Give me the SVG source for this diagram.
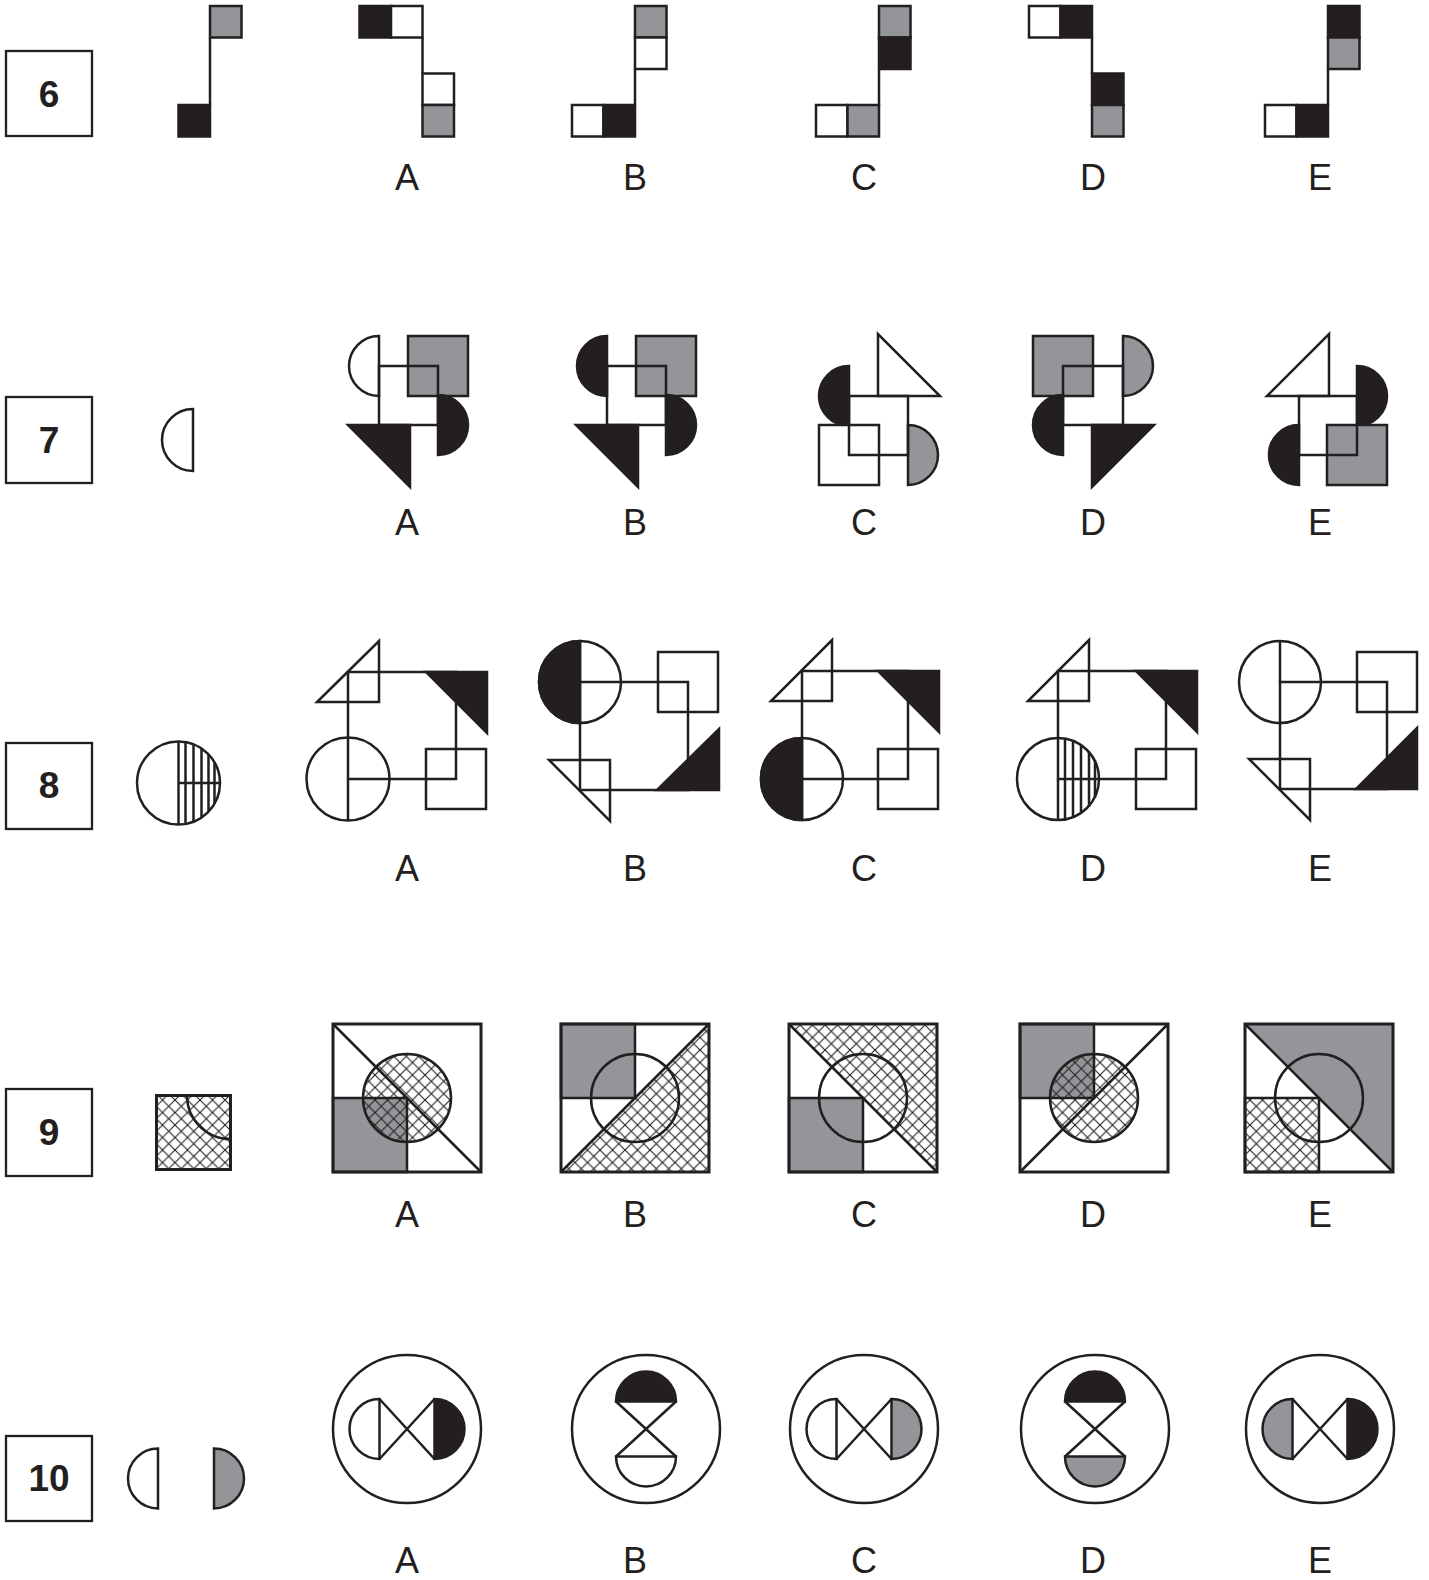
<svg xmlns="http://www.w3.org/2000/svg" width="1429" height="1580" viewBox="0 0 1429 1580">
<style>
.s{stroke:#231f20;stroke-width:2.5;fill:none;stroke-linejoin:miter}
.k{fill:#231f20;stroke:#231f20;stroke-width:2.5}
.g{fill:#939598;stroke:#231f20;stroke-width:2.5}
.w{fill:#fff;stroke:#231f20;stroke-width:2.5}
.x{fill:url(#xh);stroke:none}
.gf{fill:#939598;stroke:none}
.o{fill:none;stroke:#231f20;stroke-width:3}
.box{fill:#fff;stroke:#231f20;stroke-width:2.3}
.num{font-family:"Liberation Sans",Arial,sans-serif;font-weight:bold;font-size:37px;fill:#231f20;text-anchor:middle}
.lbl{font-family:"Liberation Sans",Arial,sans-serif;font-size:36px;fill:#231f20;text-anchor:middle}
</style>
<defs>
<pattern id="xh" patternUnits="userSpaceOnUse" width="12.5" height="12.5">
<path d="M0,0 L12.5,12.5 M12.5,0 L0,12.5" stroke="#231f20" stroke-width="1.1" fill="none"/>
</pattern>
</defs>
<rect width="1429" height="1580" fill="#fff"/>

<!-- Row 6 -->
<g id="q6">
<rect class="box" x="6" y="51" width="86" height="85"/><text class="num" x="49" y="107">6</text>
</g>
<g id="q6-given">
<rect class="g" x="210" y="6" width="31.5" height="31.5"/>
<rect class="k" x="178.5" y="105" width="31.5" height="31.5"/>
<line class="s" x1="210" y1="37.5" x2="210" y2="105"/>
</g>
<g id="q6-A">
<rect class="k" x="359.5" y="6" width="31.5" height="31.5"/>
<rect class="w" x="391" y="6" width="31.5" height="31.5"/>
<line class="s" x1="422.5" y1="37.5" x2="422.5" y2="73.5"/>
<rect class="w" x="422.5" y="73.5" width="31.5" height="31.5"/>
<rect class="g" x="422.5" y="105" width="31.5" height="31.5"/>
<text class="lbl" x="407" y="190">A</text>
</g>
<g id="q6-B">
<rect class="g" x="635" y="6" width="31.5" height="31.5"/>
<rect class="w" x="635" y="37.5" width="31.5" height="31.5"/>
<line class="s" x1="635" y1="69" x2="635" y2="105"/>
<rect class="w" x="572" y="105" width="31.5" height="31.5"/>
<rect class="k" x="603.5" y="105" width="31.5" height="31.5"/>
<text class="lbl" x="635" y="190">B</text>
</g>
<g id="q6-C">
<rect class="g" x="879" y="6" width="31.5" height="31.5"/>
<rect class="k" x="879" y="37.5" width="31.5" height="31.5"/>
<line class="s" x1="879" y1="69" x2="879" y2="105"/>
<rect class="w" x="816" y="105" width="31.5" height="31.5"/>
<rect class="g" x="847.5" y="105" width="31.5" height="31.5"/>
<text class="lbl" x="864" y="190">C</text>
</g>
<g id="q6-D">
<rect class="w" x="1029" y="6" width="31.5" height="31.5"/>
<rect class="k" x="1060.5" y="6" width="31.5" height="31.5"/>
<line class="s" x1="1092" y1="37.5" x2="1092" y2="73.5"/>
<rect class="k" x="1092" y="73.5" width="31.5" height="31.5"/>
<rect class="g" x="1092" y="105" width="31.5" height="31.5"/>
<text class="lbl" x="1093" y="190">D</text>
</g>
<g id="q6-E">
<rect class="k" x="1328" y="6" width="31.5" height="31.5"/>
<rect class="g" x="1328" y="37.5" width="31.5" height="31.5"/>
<line class="s" x1="1328" y1="69" x2="1328" y2="105"/>
<rect class="w" x="1265" y="105" width="31.5" height="31.5"/>
<rect class="k" x="1296.5" y="105" width="31.5" height="31.5"/>
<text class="lbl" x="1320" y="190">E</text>
</g>

<!-- Row 7 -->
<g id="q7">
<rect class="box" x="6" y="397" width="86" height="86"/><text class="num" x="49" y="453">7</text>
</g>
<g id="q7-given">
<path class="w" d="M193,409 A31,31 0 0 0 193,471 Z"/>
</g>
<g id="q7-A">
<path class="w" d="M379,336 A30,30 0 0 0 379,396 Z"/>
<rect class="g" x="408" y="336" width="60" height="60"/>
<path class="k" d="M438,395 A30,30 0 0 1 438,455 Z"/>
<polygon class="k" points="348,425 410,425 410,487"/>
<rect class="s" x="379" y="366" width="59" height="59"/>
<text class="lbl" x="407" y="535">A</text>
</g>
<g id="q7-B">
<path class="k" d="M607,336 A30,30 0 0 0 607,396 Z"/>
<rect class="g" x="636" y="336" width="60" height="60"/>
<path class="k" d="M666,395 A30,30 0 0 1 666,455 Z"/>
<polygon class="k" points="576,425 638,425 638,487"/>
<rect class="s" x="607" y="366" width="59" height="59"/>
<text class="lbl" x="635" y="535">B</text>
</g>
<g id="q7-C">
<polygon class="w" points="878,334 878,396 940,396"/>
<path class="k" d="M849,366 A30,30 0 0 0 849,426 Z"/>
<rect class="w" x="819" y="425" width="60" height="60"/>
<path class="g" d="M908,425 A30,30 0 0 1 908,485 Z"/>
<rect class="s" x="849" y="396" width="59" height="59"/>
<text class="lbl" x="864" y="535">C</text>
</g>
<g id="q7-D">
<rect class="g" x="1033" y="336" width="60" height="60"/>
<path class="g" d="M1123,336 A30,30 0 0 1 1123,396 Z"/>
<path class="k" d="M1063,395 A30,30 0 0 0 1063,455 Z"/>
<polygon class="k" points="1092,425 1154,425 1092,487"/>
<rect class="s" x="1063" y="366" width="60" height="59"/>
<text class="lbl" x="1093" y="535">D</text>
</g>
<g id="q7-E">
<polygon class="w" points="1267,396 1329,396 1329,334"/>
<path class="k" d="M1357,366 A30,30 0 0 1 1357,426 Z"/>
<path class="k" d="M1299,425 A30,30 0 0 0 1299,485 Z"/>
<rect class="g" x="1327" y="425" width="60" height="60"/>
<rect class="s" x="1299" y="396" width="58" height="59"/>
<text class="lbl" x="1320" y="535">E</text>
</g>

<!-- Row 8 -->
<g id="q8">
<rect class="box" x="6" y="743" width="86" height="86"/><text class="num" x="49" y="798">8</text>
</g>
<g id="q8-given">
<circle class="w" cx="178.5" cy="783" r="41.5"/>
<path class="s" d="M178.5,741.5 V824.5 M178.5,783 H220 M185.5,742.1 V823.9 M193.5,744.3 V821.7 M201.5,748.5 V817.5 M208.5,754.3 V811.7 M214.5,762.4 V803.6"/>
</g>
<g id="q8-A">
<polygon class="w" points="317,702 379,702 379,641"/>
<polygon class="k" points="426,672 487,672 487,733"/>
<rect class="w" x="426" y="749" width="60" height="60"/>
<circle class="w" cx="348" cy="779" r="41.5"/>
<rect class="s" x="348" y="672" width="108" height="107"/>
<line class="s" x1="348" y1="779" x2="348" y2="820.5"/>
<text class="lbl" x="407" y="881">A</text>
</g>
<g id="q8-B">
<rect class="w" x="658" y="652" width="60" height="60"/>
<polygon class="k" points="657,790 719,790 719,729"/>
<polygon class="w" points="549,760 610,760 610,821"/>
<circle class="w" cx="580" cy="682" r="41"/>
<path class="k" d="M580,641 A41,41 0 0 0 580,723 Z"/>
<rect class="s" x="580" y="682" width="108" height="108"/>
<line class="s" x1="580" y1="641" x2="580" y2="682"/>
<text class="lbl" x="635" y="881">B</text>
</g>
<g id="q8-C">
<polygon class="w" points="771,701 832,701 832,640"/>
<polygon class="k" points="878,671 939,671 939,732"/>
<rect class="w" x="878" y="749" width="60" height="60"/>
<circle class="w" cx="802" cy="779" r="41"/>
<path class="k" d="M802,738 A41,41 0 0 0 802,820 Z"/>
<rect class="s" x="802" y="671" width="106" height="108"/>
<line class="s" x1="802" y1="779" x2="802" y2="820"/>
<text class="lbl" x="864" y="881">C</text>
</g>
<g id="q8-D">
<polygon class="w" points="1028,701 1089,701 1089,640"/>
<polygon class="k" points="1136,671 1197,671 1197,732"/>
<rect class="w" x="1136" y="749" width="60" height="60"/>
<circle class="w" cx="1058" cy="779" r="41"/>
<path class="s" d="M1065,738.6 V819.4 M1073,740.8 V817.2 M1081,745.1 V812.9 M1089,751.1 V806.9 M1095,760.4 V797.6"/>
<rect class="s" x="1058" y="671" width="108" height="108"/>
<line class="s" x1="1058" y1="779" x2="1058" y2="820"/>
<text class="lbl" x="1093" y="881">D</text>
</g>
<g id="q8-E">
<rect class="w" x="1357" y="652" width="60" height="60"/>
<polygon class="k" points="1356,789 1417,789 1417,728"/>
<polygon class="w" points="1249,759 1310,759 1310,820"/>
<circle class="w" cx="1280" cy="682" r="41"/>
<rect class="s" x="1280" y="682" width="107" height="107"/>
<line class="s" x1="1280" y1="641" x2="1280" y2="682"/>
<text class="lbl" x="1320" y="881">E</text>
</g>

<!-- Row 9 -->
<g id="q9">
<rect class="box" x="6" y="1089" width="86" height="87"/><text class="num" x="49" y="1145">9</text>
</g>
<g id="q9-given">
<rect x="156.5" y="1095.5" width="74" height="74" fill="#fff"/>
<rect class="x" x="156.5" y="1095.5" width="74" height="74"/>
<path class="s" d="M187,1095.5 A43.5,43.5 0 0 0 230.5,1139"/>
<rect class="o" x="156.5" y="1095.5" width="74" height="74"/>
</g>
<g id="q9-A">
<rect x="333" y="1024" width="148" height="148" fill="#fff"/>
<rect class="gf" x="333" y="1098" width="74" height="74"/>
<circle class="x" cx="407" cy="1098" r="44"/>
<line class="s" x1="333" y1="1024" x2="481" y2="1172"/>
<circle class="s" cx="407" cy="1098" r="44"/>
<rect class="s" x="333" y="1098" width="74" height="74"/>
<rect class="o" x="333" y="1024" width="148" height="148"/>
<text class="lbl" x="407" y="1227">A</text>
</g>
<g id="q9-B">
<rect x="561" y="1024" width="148" height="148" fill="#fff"/>
<rect class="gf" x="561" y="1024" width="74" height="74"/>
<polygon class="x" points="561,1172 709,1024 709,1172"/>
<line class="s" x1="561" y1="1172" x2="709" y2="1024"/>
<circle class="s" cx="635" cy="1098" r="44"/>
<rect class="s" x="561" y="1024" width="74" height="74"/>
<rect class="o" x="561" y="1024" width="148" height="148"/>
<text class="lbl" x="635" y="1227">B</text>
</g>
<g id="q9-C">
<rect x="789" y="1024" width="148" height="148" fill="#fff"/>
<rect class="gf" x="789" y="1098" width="74" height="74"/>
<polygon class="x" points="789,1024 937,1024 937,1172"/>
<line class="s" x1="789" y1="1024" x2="937" y2="1172"/>
<circle class="s" cx="863" cy="1098" r="44"/>
<rect class="s" x="789" y="1098" width="74" height="74"/>
<rect class="o" x="789" y="1024" width="148" height="148"/>
<text class="lbl" x="864" y="1227">C</text>
</g>
<g id="q9-D">
<rect x="1020" y="1024" width="148" height="148" fill="#fff"/>
<rect class="gf" x="1020" y="1024" width="74" height="74"/>
<circle class="x" cx="1094" cy="1098" r="44"/>
<line class="s" x1="1020" y1="1172" x2="1168" y2="1024"/>
<circle class="s" cx="1094" cy="1098" r="44"/>
<rect class="s" x="1020" y="1024" width="74" height="74"/>
<rect class="o" x="1020" y="1024" width="148" height="148"/>
<text class="lbl" x="1093" y="1227">D</text>
</g>
<g id="q9-E">
<rect x="1245" y="1024" width="148" height="148" fill="#fff"/>
<polygon class="gf" points="1245,1024 1393,1024 1393,1172"/>
<rect class="x" x="1245" y="1098" width="74" height="74"/>
<line class="s" x1="1245" y1="1024" x2="1393" y2="1172"/>
<circle class="s" cx="1319" cy="1098" r="44"/>
<rect class="s" x="1245" y="1098" width="74" height="74"/>
<rect class="o" x="1245" y="1024" width="148" height="148"/>
<text class="lbl" x="1320" y="1227">E</text>
</g>

<!-- Row 10 -->
<g id="q10">
<rect class="box" x="6" y="1436" width="86" height="85"/><text class="num" x="49" y="1491">10</text>
</g>
<g id="q10-given">
<path class="w" d="M158,1448.5 A30,30 0 0 0 158,1508.5 Z"/>
<path class="g" d="M214,1448.5 A30,30 0 0 1 214,1508.5 Z"/>
</g>
<g id="q10-A">
<circle class="s" cx="407" cy="1429" r="74"/>
<path class="w" d="M379.5,1399 A30,30 0 0 0 379.5,1459 Z"/>
<path class="k" d="M434.5,1399 A30,30 0 0 1 434.5,1459 Z"/>
<path class="s" d="M379.5,1399 L434.5,1459 M379.5,1459 L434.5,1399"/>
<text class="lbl" x="407" y="1573">A</text>
</g>
<g id="q10-B">
<circle class="s" cx="646" cy="1429" r="74"/>
<path class="k" d="M616,1401.5 A30,30 0 0 1 676,1401.5 Z"/>
<path class="w" d="M616,1456.5 A30,30 0 0 0 676,1456.5 Z"/>
<path class="s" d="M616,1401.5 L676,1456.5 M676,1401.5 L616,1456.5"/>
<text class="lbl" x="635" y="1573">B</text>
</g>
<g id="q10-C">
<circle class="s" cx="864" cy="1429" r="74"/>
<path class="w" d="M836.5,1399 A30,30 0 0 0 836.5,1459 Z"/>
<path class="g" d="M891.5,1399 A30,30 0 0 1 891.5,1459 Z"/>
<path class="s" d="M836.5,1399 L891.5,1459 M836.5,1459 L891.5,1399"/>
<text class="lbl" x="864" y="1573">C</text>
</g>
<g id="q10-D">
<circle class="s" cx="1095" cy="1429" r="74"/>
<path class="k" d="M1065,1401.5 A30,30 0 0 1 1125,1401.5 Z"/>
<path class="g" d="M1065,1456.5 A30,30 0 0 0 1125,1456.5 Z"/>
<path class="s" d="M1065,1401.5 L1125,1456.5 M1125,1401.5 L1065,1456.5"/>
<text class="lbl" x="1093" y="1573">D</text>
</g>
<g id="q10-E">
<circle class="s" cx="1320" cy="1429" r="74"/>
<path class="g" d="M1292.5,1399 A30,30 0 0 0 1292.5,1459 Z"/>
<path class="k" d="M1347.5,1399 A30,30 0 0 1 1347.5,1459 Z"/>
<path class="s" d="M1292.5,1399 L1347.5,1459 M1292.5,1459 L1347.5,1399"/>
<text class="lbl" x="1320" y="1573">E</text>
</g>
<g id="connectors"></g>
</svg>
